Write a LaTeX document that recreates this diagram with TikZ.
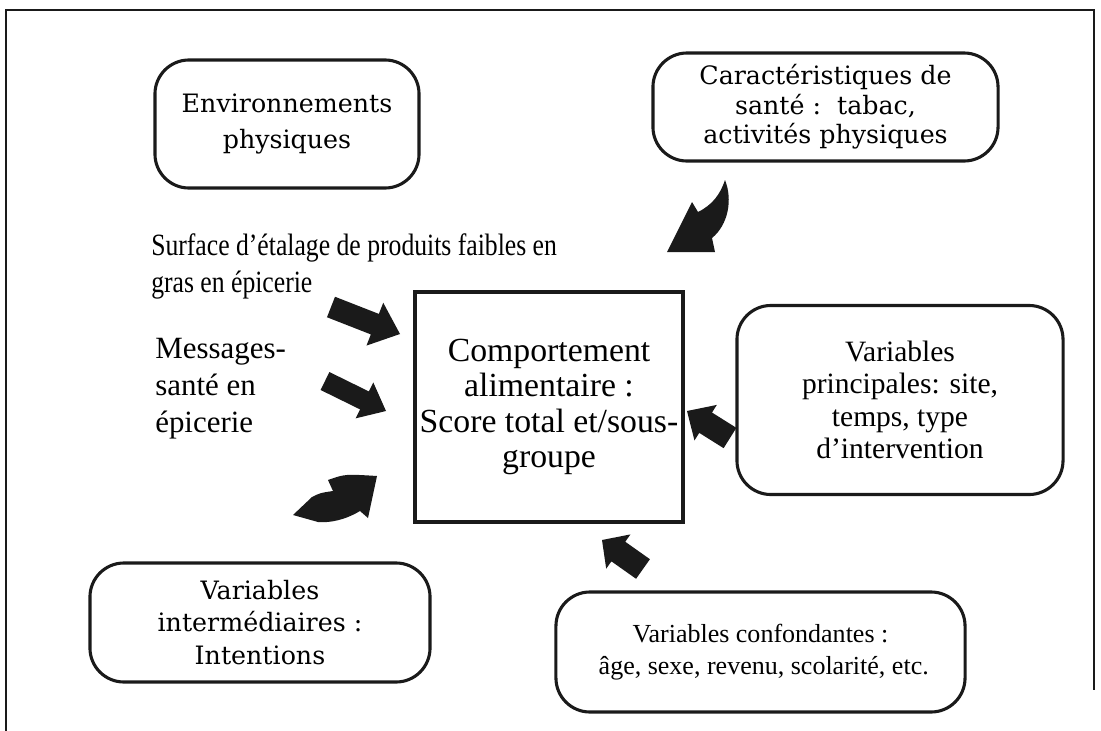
\documentclass[tikz,border=0pt]{standalone}
\usepackage{fontspec}
\setmainfont{Liberation Serif}
\newfontfamily\largefont{DejaVu Serif}
\newfontfamily\etroitfont[FakeStretch=0.83]{Liberation Serif}
\usepackage{tikz}
\usetikzlibrary{positioning,calc}
\definecolor{encre}{RGB}{26,26,26}
% fleche pleine: queue, pointe, largeur du corps, largeur de la tete, longueur de la tete (px)
\newcommand{\flechebloc}[5]{%
  \coordinate (cou) at ($(#2)!#5*0.025cm!(#1)$);
  \fill[encre] ($(#1)!#3*0.0125cm!90:(#2)$) -- ($(cou)!#3*0.0125cm!90:(#2)$)
    -- ($(cou)!#4*0.0125cm!90:(#2)$) -- (#2) -- ($(cou)!#4*0.0125cm!-90:(#2)$)
    -- ($(cou)!#3*0.0125cm!-90:(#2)$) -- ($(#1)!#3*0.0125cm!-90:(#2)$) -- cycle;
}

\begin{document}
\begin{tikzpicture}[
  x=0.025cm, y=-0.025cm,
  boite/.style={draw=encre, line width=2.2pt, rounded corners=0.85cm,
                inner sep=0pt, align=center},
  cadre/.style={draw=encre, line width=2.2pt, inner sep=0pt, align=center},
  grand/.style={font=\largefont\fontsize{18}{#1}\selectfont},
  grand/.default=23,
  texte/.style={font=\fontsize{22}{26}\selectfont, align=left, inner sep=0pt},
]
\useasboundingbox (0,0) rectangle (1101,731);
% ---- Cadre exterieur ------------------------------------------------------
\draw[encre, line width=1.6pt] (6,731) -- (6,10) -- (1094,10) -- (1094,690);
% ---- Boites ---------------------------------------------------------------
\node[boite, grand=25, minimum width=6.6cm, minimum height=3.2cm] (env)
  at (287,124) {Environnements\\physiques};
\node[boite, grand=21, minimum width=8.625cm, minimum height=2.7cm] (sante)
  at (825.5,107) {Caractéristiques de\\santé :\ \ tabac,\\activités physiques};
\node[cadre, minimum width=6.7cm, minimum height=5.75cm,
      font=\fontsize{24}{25}\selectfont] (comport) at (549,407)
  {Comportement\\alimentaire :\\Score total et/sous-\\groupe};
\node[boite, minimum width=8.15cm, minimum height=4.725cm,
      font=\fontsize{21}{23}\selectfont] (princ) at (900,400)
  {Variables\\principales: site,\\temps, type\\d’intervention};
\node[boite, grand=23, minimum width=8.5cm, minimum height=2.975cm] (interm)
  at (260,622.5) {Variables\\intermédiaires :\\Intentions};
\node[boite, minimum width=10.225cm, minimum height=3.0cm,
      font=\fontsize{18.5}{23}\selectfont] (confond) at (760.5,652)
  {Variables confondantes :\\\ âge, sexe, revenu, scolarité, etc.};
% ---- Textes libres --------------------------------------------------------
\node[texte, font=\etroitfont\fontsize{22}{26}\selectfont, anchor=base west]
  (surface) at (151,292)
  {Surface d’étalage de produits faibles en\\gras en épicerie};
\node[texte, anchor=base west] (messages) at (155,432)
  {Messages-\\santé en\\épicerie};
% ---- Fleches droites ------------------------------------------------------
\coordinate (q1) at (331,307);  \coordinate (p1) at (400,334);
\coordinate (q2) at (325,381);  \coordinate (p2) at (386,411);
\coordinate (q3) at (730,438);  \coordinate (p3) at (687,411);
\coordinate (q4) at (643,569);  \coordinate (p4) at (602,540);
\flechebloc{q1}{p1}{22}{46}{27}
\flechebloc{q2}{p2}{20}{40}{24}
\flechebloc{q3}{p3}{24}{42}{22}
\flechebloc{q4}{p4}{24}{42}{20}
% ---- Fleches courbes ------------------------------------------------------
\fill[encre] (293,515) -- (312,497) .. controls (320,493) .. (333,491)
  -- (328,480) .. controls (345,474) .. (377,476) -- (368,518) -- (360,511)
  .. controls (345,520) and (330,523) .. (318,522) -- cycle;
\fill[encre] (725,180) .. controls (733,200) and (728,225) .. (712,238)
  -- (715,252) -- (667,252) -- (692,202) -- (698,212)
  .. controls (712,205) and (720,195) .. cycle;
\end{tikzpicture}
\end{document}
